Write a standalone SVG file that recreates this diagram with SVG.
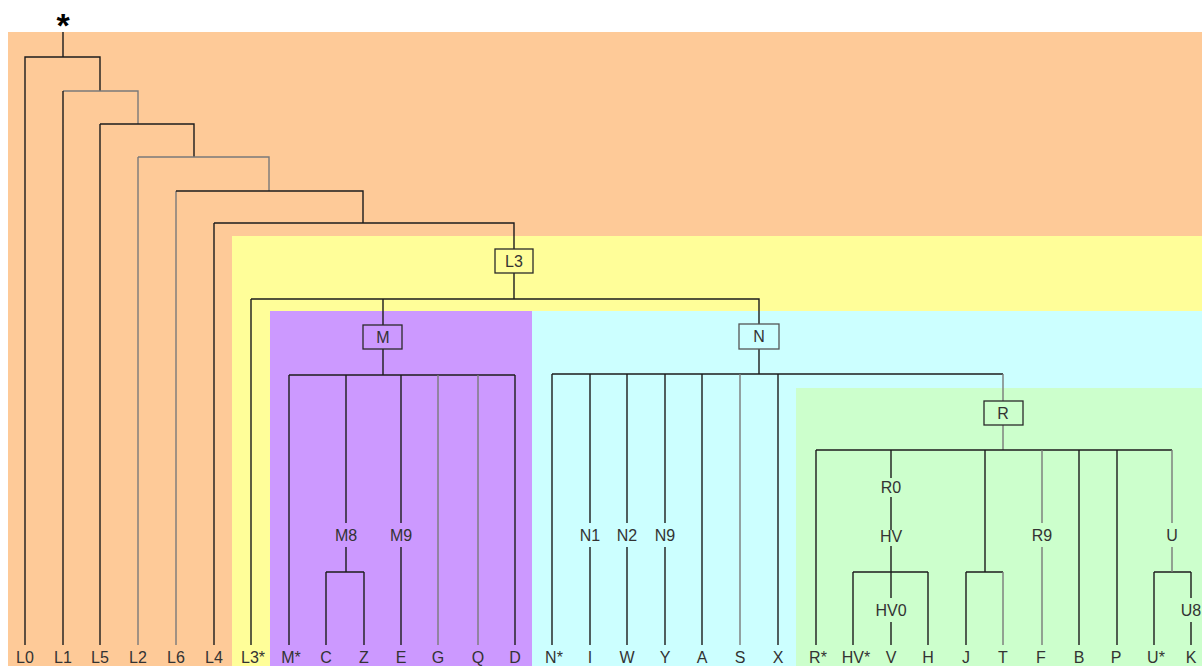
<svg xmlns="http://www.w3.org/2000/svg" width="1202" height="666" viewBox="0 0 1202 666">
<style>
.c{fill:none;stroke:#1c1c1c;stroke-width:1.4}
.g{fill:none;stroke:#7a7a7a;stroke-width:1.4}
.box{fill:none;stroke:#2a2a2a;stroke-width:1.3}
text{font-family:"Liberation Sans",Arial,sans-serif;font-size:16px;fill:#333;text-anchor:middle}
.star{font-size:34px;font-weight:bold;fill:#000}
</style>
<rect width="1202" height="666" fill="#fff"/>
<g id="regions">
<rect x="8" y="32" width="1194" height="634" fill="#FECA98"/>
<rect x="232" y="236" width="970" height="430" fill="#FFFE99"/>
<rect x="270" y="311" width="262" height="355" fill="#CC99FF"/>
<rect x="532" y="311" width="670" height="355" fill="#CCFFFF"/>
<rect x="796" y="388" width="406" height="278" fill="#CCFFCC"/>
</g>
<g id="connectors">
<path class="c" d="M63,32V57M25,645V57H100V91"/>
<path class="g" d="M63,91H138V124"/>
<path class="c" d="M63,91V645M100,124V645M100,124H194V157"/>
<path class="g" d="M138,157V645M138,157H269V191M176,191V645"/>
<path class="c" d="M176,191H363V223M214,223V645M214,223H514V249"/>
<path class="c" d="M514,273V299M251,299H759V324M251,299V645M383,299V325"/>
<path class="c" d="M383,349V375M289,375H515M289,375V645M346,375V523M346,547V572M326,572H364M326,572V645M364,572V645M401,375V523M401,547V645M515,375V645"/>
<path class="g" d="M438,375V645M478,375V645"/>
<path class="c" d="M759,349V374M552,374H1003M552,374V645M590,374V523M590,547V645M627,374V523M627,547V645M665,374V523M665,547V645M702,374V645M778,374V645"/>
<path class="g" d="M740,374V645M1003,374V401M1003,425V450"/>
<path class="c" d="M816,450H1172M816,450V645M891,450V478M891,497V530M891,546V572M853,572H928M853,572V645M928,572V645M891,572V598M891,622V645M985,450V572M966,572H1003M966,572V645M1079,450V645M1117,450V645M1154,572H1191M1154,572V645M1191,572V598M1191,622V645"/>
<path class="g" d="M1003,572V645M1042,450V523M1042,547V645M1172,450V523M1172,547V572"/>
</g>
<g id="root"><text class="star" x="63" y="37">*</text></g>
<g id="L3"><rect class="box" x="495" y="249" width="38" height="24"/><text x="514" y="267">L3</text></g>
<g id="M"><rect class="box" x="363" y="325" width="39" height="24"/><text x="383" y="343">M</text></g>
<g id="N"><rect class="box" x="739" y="324" width="40" height="25" style="stroke:#555"/><text x="759" y="342">N</text></g>
<g id="R"><rect class="box" x="984" y="401" width="39" height="24"/><text x="1003" y="419">R</text></g>
<g id="M8"><text x="346" y="541">M8</text></g>
<g id="M9"><text x="401" y="541">M9</text></g>
<g id="N1"><text x="590" y="541">N1</text></g>
<g id="N2"><text x="627" y="541">N2</text></g>
<g id="N9"><text x="665" y="541">N9</text></g>
<g id="R0"><text x="891" y="493">R0</text></g>
<g id="HV"><text x="891" y="542">HV</text></g>
<g id="R9"><text x="1042" y="541">R9</text></g>
<g id="U"><text x="1172" y="541">U</text></g>
<g id="HV0"><text x="891" y="616">HV0</text></g>
<g id="U8"><text x="1191" y="616">U8</text></g>
<g id="leaves">
<g id="leaf-L0"><text x="25" y="663">L0</text></g>
<g id="leaf-L1"><text x="63" y="663">L1</text></g>
<g id="leaf-L5"><text x="100" y="663">L5</text></g>
<g id="leaf-L2"><text x="138" y="663">L2</text></g>
<g id="leaf-L6"><text x="176" y="663">L6</text></g>
<g id="leaf-L4"><text x="214" y="663">L4</text></g>
<g id="leaf-L3s"><text x="253" y="663">L3*</text></g>
<g id="leaf-Ms"><text x="291" y="663">M*</text></g>
<g id="leaf-C"><text x="326" y="663">C</text></g>
<g id="leaf-Z"><text x="364" y="663">Z</text></g>
<g id="leaf-E"><text x="401" y="663">E</text></g>
<g id="leaf-G"><text x="438" y="663">G</text></g>
<g id="leaf-Q"><text x="478" y="663">Q</text></g>
<g id="leaf-D"><text x="515" y="663">D</text></g>
<g id="leaf-Ns"><text x="554" y="663">N*</text></g>
<g id="leaf-I"><text x="590" y="663">I</text></g>
<g id="leaf-W"><text x="627" y="663">W</text></g>
<g id="leaf-Y"><text x="665" y="663">Y</text></g>
<g id="leaf-A"><text x="702" y="663">A</text></g>
<g id="leaf-S"><text x="740" y="663">S</text></g>
<g id="leaf-X"><text x="778" y="663">X</text></g>
<g id="leaf-Rs"><text x="818" y="663">R*</text></g>
<g id="leaf-HVs"><text x="856" y="663">HV*</text></g>
<g id="leaf-V"><text x="891" y="663">V</text></g>
<g id="leaf-H"><text x="928" y="663">H</text></g>
<g id="leaf-J"><text x="966" y="663">J</text></g>
<g id="leaf-T"><text x="1003" y="663">T</text></g>
<g id="leaf-F"><text x="1041" y="663">F</text></g>
<g id="leaf-B"><text x="1079" y="663">B</text></g>
<g id="leaf-P"><text x="1116" y="663">P</text></g>
<g id="leaf-Us"><text x="1156" y="663">U*</text></g>
<g id="leaf-K"><text x="1191" y="663">K</text></g>
</g>
</svg>
